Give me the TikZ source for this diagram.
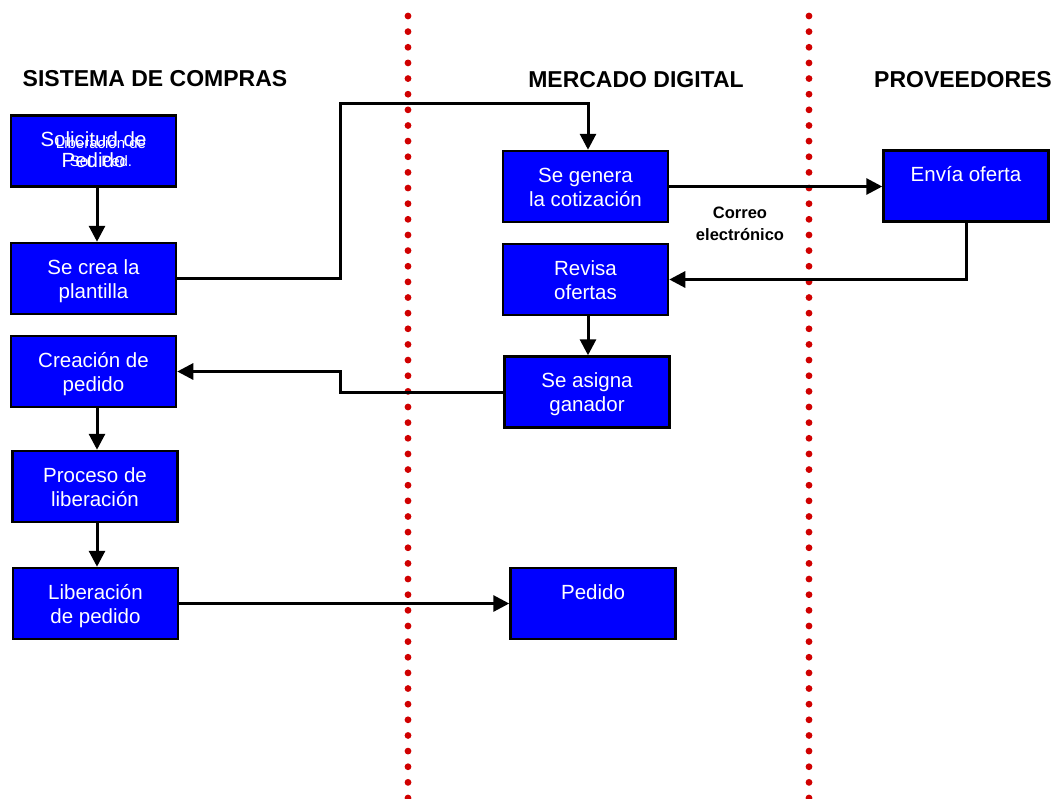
\documentclass[tikz,border=0pt]{standalone}
\usepackage{fontspec}
\setmainfont{Liberation Sans}
\usetikzlibrary{arrows.meta}

\definecolor{boxblue}{RGB}{0,0,255}
\definecolor{dotred}{RGB}{208,0,0}

% text block of a process box: lines start near the top edge
\newcommand{\boxtext}[1]{\parbox[t][71pt][t]{165pt}{\centering\rule{0pt}{31pt}#1}}

\tikzset{
  stepbox/.style={draw=black, line width=2.5pt, fill=boxblue, text=white,
    inner sep=0pt, minimum width=165pt, minimum height=71pt,
    font=\fontsize{20.5}{24}\selectfont},
  flow/.style={line width=3pt, -{Triangle[length=16pt,width=16pt]}},
  lanehead/.style={font=\bfseries\fontsize{23}{27}\selectfont},
  note/.style={font=\bfseries\fontsize{16.5}{22}\selectfont, align=center},
  dot/.style={fill=dotred},
}

\begin{document}
\begin{tikzpicture}[x=1pt, y=-1pt]
\useasboundingbox (0,0) rectangle (1056,798);

% lane separators
\foreach \k in {0,...,50} {
  \fill[dot] (408,16+\k*15.64) circle (3.4);
  \fill[dot] (809,16+\k*15.64) circle (3.4);
}

% lane titles
\node[lanehead] (h1) at (155,79) {SISTEMA DE COMPRAS};
\node[lanehead] (h2) at (636,80) {MERCADO DIGITAL};
\node[lanehead] (h3) at (963,80) {PROVEEDORES};

% purchasing system
\node[stepbox] (b1) at (93.5,151) {\boxtext{Solicitud de\\[-3pt]Pedido}};
\node[text=white, inner sep=0pt, align=center, font=\fontsize{15}{18}\selectfont]
  (b1x) at (101,152) {Liberación de\\Sol. Ped.};
\node[stepbox] (b2) at (93.5,278.5) {\boxtext{Se crea la\\plantilla}};
\node[stepbox] (b3) at (93.5,371.5) {\boxtext{Creación de\\pedido}};
\node[stepbox] (b4) at (95,486.5) {\boxtext{Proceso de\\liberación}};
\node[stepbox] (b5) at (95.5,603.5) {\boxtext{Liberación\\de pedido}};

% digital market
\node[stepbox] (m1) at (585.5,186.5) {\boxtext{Se genera\\la cotización}};
\node[stepbox] (m2) at (585.5,279.5) {\boxtext{Revisa\\ofertas}};
\node[stepbox] (m3) at (587,392) {\boxtext{Se asigna\\ganador}};
\node[stepbox] (m4) at (593,603.5) {\boxtext{Pedido}};

% suppliers
\node[stepbox] (p1) at (966,186) {\boxtext{Envía oferta}};

\node[note] (mail) at (740,224) {Correo\\electrónico};

% flow
\coordinate (up) at (340,103);
\coordinate (back) at (340,392);

\draw[flow] ([xshift=3.5]b1.south) -- ([xshift=3.5]b2.north);
\draw[flow] (b2.east) -| (up) -| ([xshift=2.5]m1.north);
\draw[flow] (m1.east) -- (m1.east -| p1.west);
\draw[flow] (p1.south) |- (m2.east);
\draw[flow] ([xshift=2.5]m2.south) -- ([xshift=2.5]m2.south |- m3.north);
\draw[flow] (m3.west) -- (back) |- (b3.east);
\draw[flow] ([xshift=3.5]b3.south) -- ([xshift=2]b4.north);
\draw[flow] ([xshift=2]b4.south) -- ([xshift=1.5]b5.north);
\draw[flow] (b5.east) -- (b5.east -| m4.west);
\end{tikzpicture}
\end{document}
